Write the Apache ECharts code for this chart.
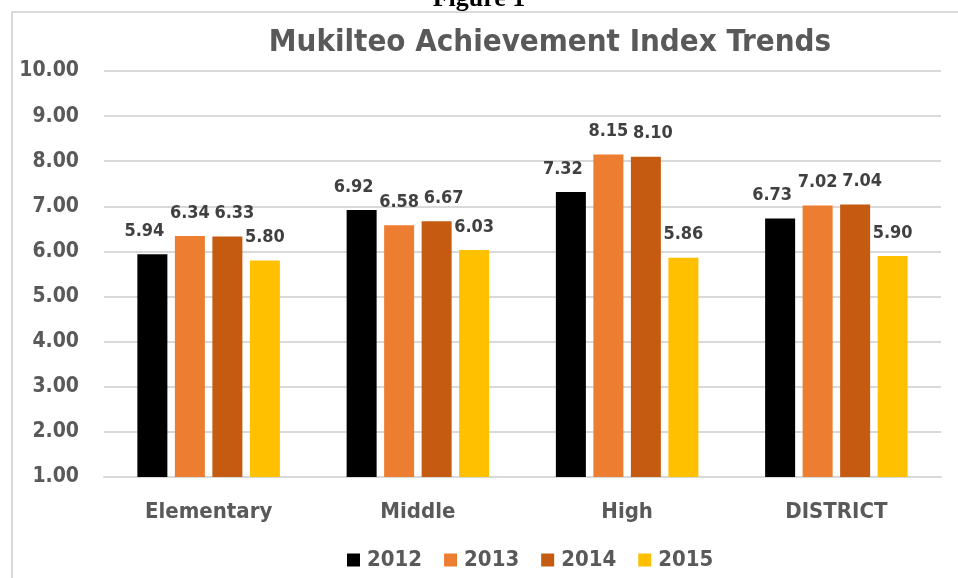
<!DOCTYPE html>
<html>
<head>
<meta charset="utf-8">
<script src="https://cdn.jsdelivr.net/npm/echarts@6/dist/echarts.min.js"></script>
<style>
  html, body { margin: 0; padding: 0; background: #fff; }
  #chart { width: 958px; height: 578px; }
</style>
</head>
<body>
<div id="chart"></div>
<script>
const CATEGORIES = ["Elementary", "Middle", "High", "DISTRICT"];
const YEARS = ["2012", "2013", "2014", "2015"];
const COLORS = ["#000000", "#ED7D31", "#C55A11", "#FFC000"];

const VALUES_2012 = [5.94, 6.92, 7.32, 6.73];
const VALUES_2013 = [6.34, 6.58, 8.15, 7.02];
const VALUES_2014 = [6.33, 6.67, 8.10, 7.04];
const VALUES_2015 = [5.80, 6.03, 5.86, 5.90];

const Y_MIN = 1;
const Y_MAX = 10;
const Y_STEP = 1;

const FONT = "'Liberation Sans Narrow', 'DejaVu Sans Condensed', 'Open Sans', sans-serif";
const TEXT_GRAY = "#595959";

// excel nudges the outer labels sideways so neighbours don't collide
const LABEL_SHIFT_X = [-8, 0, 7, 0];

function renderChart() {
  const chartEl = document.getElementById("chart");
  const myChart = echarts.init(chartEl);

  const allValues = [VALUES_2012, VALUES_2013, VALUES_2014, VALUES_2015];

  const seriesData = YEARS.map((year, i) => ({
    name: year,
    type: "bar",
    data: allValues[i],
    barWidth: 30,
    barGap: "25%",
    itemStyle: { color: COLORS[i] },
    label: {
      show: true,
      position: "top",
      distance: 14,
      offset: [LABEL_SHIFT_X[i], 0],
      formatter: (p) => p.value.toFixed(2),
      color: "#404040",
      fontFamily: FONT,
      fontWeight: "bold",
      fontSize: 18,
    },
  }));

  const option = {
    backgroundColor: "#fff",
    animation: false,
    title: {
      text: "Mukilteo Achievement Index Trends",
      left: 545,
      textAlign: "center",
      top: 22,
      textStyle: {
        color: TEXT_GRAY,
        fontFamily: FONT,
        fontWeight: "bold",
        fontSize: 31,
      },
    },
    graphic: [
      {
        type: "rect",
        shape: { x: 12, y: 12, width: 960, height: 600 },
        style: { fill: "none", stroke: "#d9d9d9", lineWidth: 2 },
        silent: true,
      },
      {
        type: "text",
        left: "center",
        top: -14,
        style: {
          text: "Figure 1",
          font: "bold 26px 'Liberation Serif', serif",
          fill: "#000",
        },
      },
    ],
    legend: {
      data: YEARS,
      bottom: 2,
      left: 342,
      itemWidth: 13,
      itemHeight: 13,
      itemGap: 22,
      icon: "rect",
      textStyle: {
        color: TEXT_GRAY,
        fontFamily: FONT,
        fontWeight: "bold",
        fontSize: 22,
        padding: [0, 0, 0, 2],
      },
    },
    grid: {
      left: 104,
      right: 17,
      top: 71,
      bottom: 101,
      containLabel: false,
    },
    xAxis: {
      type: "category",
      data: CATEGORIES,
      axisTick: { show: false },
      axisLine: { lineStyle: { color: "#d9d9d9", width: 2 } },
      axisLabel: {
        color: TEXT_GRAY,
        fontFamily: FONT,
        fontWeight: "bold",
        fontSize: 22,
        margin: 24,
      },
    },
    yAxis: {
      type: "value",
      min: Y_MIN,
      max: Y_MAX,
      interval: Y_STEP,
      axisLine: { show: false },
      axisTick: { show: false },
      splitLine: { lineStyle: { color: "#d9d9d9", width: 2 } },
      axisLabel: {
        formatter: (v) => v.toFixed(2),
        color: TEXT_GRAY,
        fontFamily: FONT,
        fontWeight: "bold",
        fontSize: 21,
        margin: 25,
      },
    },
    series: seriesData,
  };

  myChart.setOption(option);
}

document.addEventListener("DOMContentLoaded", function () {
  renderChart();
});
</script>
</body>
</html>
